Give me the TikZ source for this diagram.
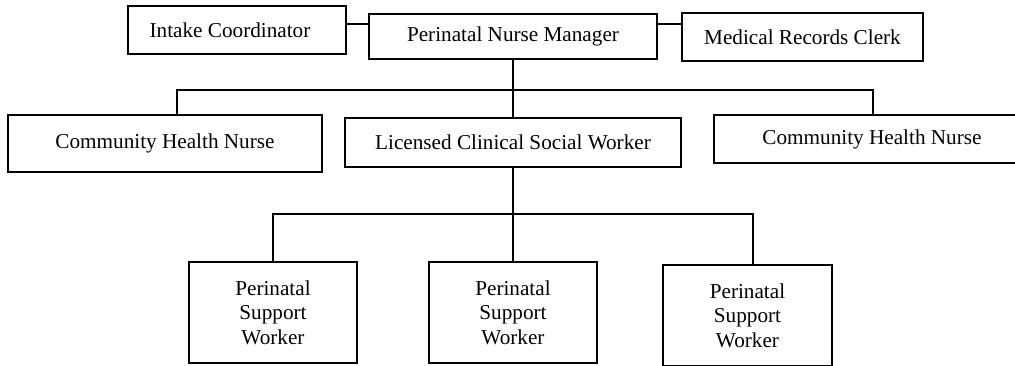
\documentclass[tikz,border=0pt]{standalone}
\usepackage{fontspec}
\setmainfont{Liberation Serif}
\begin{document}
\begin{tikzpicture}[x=1pt,y=-1pt,
  box/.style={draw=black,line width=1.6pt,rectangle,inner sep=0pt,
    font=\fontsize{21.2}{24.7}\selectfont,align=center},
  conn/.style={draw=black,line width=1.6pt}]
\useasboundingbox (0,0) rectangle (1015,365);
\clip (0,0) rectangle (1015,365);
\node[box,minimum width=218pt,minimum height=48pt] (ic) at (237,30) {Intake Coordinator\hspace*{14pt}};
\node[box,minimum width=288pt,minimum height=45pt] (pnm) at (513,36.5) {Perinatal Nurse Manager};
\node[box,minimum width=241pt,minimum height=48pt] (mrc) at (802.5,37) {Medical Records Clerk};
\node[box,minimum width=314pt,minimum height=57pt] (chn1) at (165,143.5) {Community Health Nurse};
\node[box,minimum width=336pt,minimum height=49pt] (lcsw) at (513,142.5) {Licensed Clinical Social Worker};
\node[box,minimum width=316pt,minimum height=48pt] (chn2) at (872,139) {Community Health Nurse};
\node[box,minimum width=168pt,minimum height=101pt] (psw1) at (273,312.5) {Perinatal\\Support\\Worker};
\node[box,minimum width=168pt,minimum height=101pt] (psw2) at (513,312.5) {Perinatal\\Support\\Worker};
\node[box,minimum width=169pt,minimum height=101pt] (psw3) at (747.5,315.5) {Perinatal\\Support\\Worker};
\coordinate (t) at (0,24);
\coordinate (b1) at (177,90);
\coordinate (b2) at (873,90);
\coordinate (c1) at (273,214);
\coordinate (c2) at (753,214);
\draw[conn] (ic.east |- t) -- (pnm.west |- t);
\draw[conn] (pnm.east |- t) -- (mrc.west |- t);
\draw[conn] (pnm.south) -- (lcsw.north);
\draw[conn] (b1 |- chn1.north) -- (b1) -- (b2) -- (b2 |- chn2.north);
\draw[conn] (lcsw.south) -- (psw2.north);
\draw[conn] (psw1.north) -- (c1) -- (c2) -- (c2 |- psw3.north);
\end{tikzpicture}
\end{document}
